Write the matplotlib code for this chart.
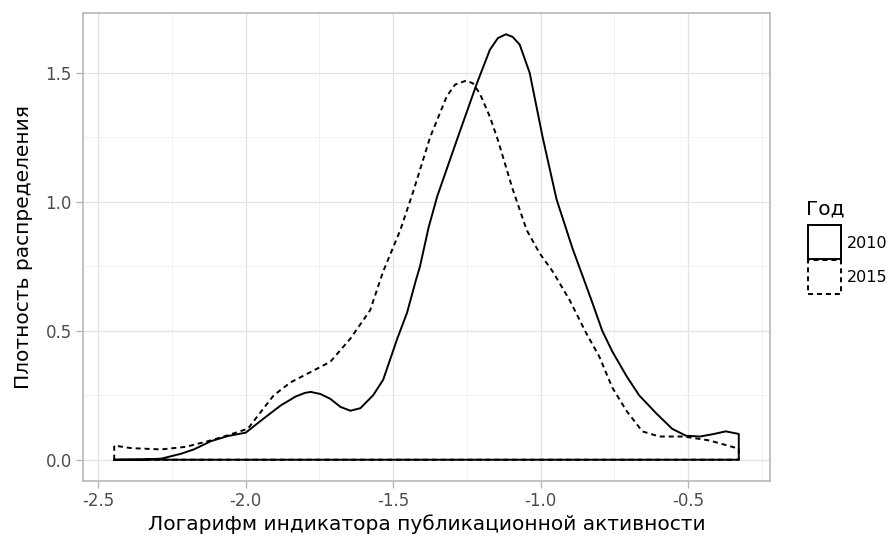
import matplotlib
matplotlib.use("Agg")
import matplotlib.pyplot as plt
from matplotlib.patches import Rectangle
from matplotlib.ticker import MultipleLocator

plt.rcParams['font.family'] = ['DejaVu Sans']

# density estimates
x_2010 = [-2.446, -2.355, -2.287, -2.220, -2.176, -2.118, -2.060, -2.000, -1.939, -1.882,
          -1.831, -1.800, -1.780, -1.747, -1.713, -1.679, -1.645, -1.611, -1.568, -1.534,
          -1.486, -1.453, -1.422, -1.409, -1.380, -1.351, -1.284, -1.216, -1.172, -1.145,
          -1.118, -1.095, -1.071, -1.037, -0.993, -0.946, -0.892, -0.828, -0.791, -0.757,
          -0.709, -0.666, -0.608, -0.554, -0.507, -0.459, -0.412, -0.372, -0.328]
y_2010 = [0.000, 0.001, 0.004, 0.023, 0.040, 0.072, 0.092, 0.105, 0.160, 0.210,
          0.245, 0.259, 0.263, 0.255, 0.236, 0.205, 0.190, 0.200, 0.250, 0.310,
          0.470, 0.570, 0.700, 0.750, 0.900, 1.020, 1.240, 1.460, 1.590, 1.635,
          1.650, 1.640, 1.610, 1.500, 1.250, 1.010, 0.820, 0.620, 0.500, 0.420,
          0.325, 0.250, 0.180, 0.120, 0.093, 0.090, 0.100, 0.110, 0.100]

x_2015 = [-2.446, -2.389, -2.287, -2.203, -2.118, -2.060, -1.993, -1.939, -1.905, -1.848,
          -1.780, -1.713, -1.645, -1.578, -1.534, -1.476, -1.432, -1.375, -1.318, -1.290,
          -1.253, -1.230, -1.206, -1.172, -1.145, -1.095, -1.047, -1.003, -0.959, -0.902,
          -0.845, -0.801, -0.757, -0.709, -0.655, -0.598, -0.514, -0.429, -0.328]
y_2015 = [0.055, 0.045, 0.040, 0.050, 0.075, 0.095, 0.120, 0.200, 0.250, 0.300,
          0.340, 0.380, 0.470, 0.580, 0.730, 0.890, 1.040, 1.250, 1.410, 1.455,
          1.470, 1.460, 1.420, 1.330, 1.240, 1.050, 0.890, 0.800, 0.730, 0.620,
          0.490, 0.400, 0.280, 0.190, 0.110, 0.090, 0.090, 0.075, 0.043]

years = ['2010', '2015']
styles = ['-', (0, (2.6, 2.0))]

W, H = 890, 538
fig = plt.figure(figsize=(W / 100, H / 100), dpi=100)
ax = fig.add_axes([83 / W, 1 - 481 / H, (770 - 83) / W, (481 - 13) / H])

for xs, ys, ls in [(x_2010, y_2010, styles[0]), (x_2015, y_2015, styles[1])]:
    px = [xs[0]] + xs + [xs[-1], xs[0]]
    py = [0] + ys + [0, 0]
    ax.plot(px, py, color='black', lw=1.4, ls=ls, zorder=3)

xmin = min(x_2010 + x_2015)
xmax = max(x_2010 + x_2015)
ymax = max(y_2010 + y_2015)
ax.set_xlim(xmin - 0.05 * (xmax - xmin), xmax + 0.05 * (xmax - xmin))
ax.set_ylim(-0.05 * ymax, ymax * 1.05)

ax.xaxis.set_major_locator(MultipleLocator(0.5))
ax.xaxis.set_minor_locator(MultipleLocator(0.25))
ax.yaxis.set_major_locator(MultipleLocator(0.5))
ax.yaxis.set_minor_locator(MultipleLocator(0.25))
ax.grid(which='major', color='#E3E3E3', lw=0.9)
ax.grid(which='minor', color='#EDEDED', lw=0.5)
ax.set_axisbelow(True)
for s in ax.spines.values():
    s.set_color('#B3B3B3')
    s.set_linewidth(1.1)
ax.tick_params(which='major', length=5, width=0.9, color='#B3B3B3',
               labelsize=12, labelcolor='#4D4D4D', pad=3)
ax.tick_params(which='minor', length=0)
fmt = lambda v, p: f'{v:.1f}'
ax.xaxis.set_major_formatter(fmt)
ax.yaxis.set_major_formatter(fmt)

ax.set_xlabel('Логарифм индикатора публикационной активности', fontsize=14.5, labelpad=3)
ax.set_ylabel('Плотность распределения', fontsize=14.5, labelpad=9)

# legend drawn by hand, ggplot style
fig.text(806 / W, 1 - 209 / H, 'Год', fontsize=14.5, ha='left', va='center')
for i, (lab, ls) in enumerate(zip(years, styles)):
    top = 225 + 35 * i
    fig.add_artist(Rectangle((808 / W, 1 - (top + 34) / H), 33 / W, 34 / H,
                             transform=fig.transFigure, facecolor='white',
                             edgecolor='black', lw=1.4, ls=ls))
    fig.text(847 / W, 1 - (top + 18) / H, lab, fontsize=11.5, ha='left', va='center')

fig.savefig('out.png', dpi=100)
